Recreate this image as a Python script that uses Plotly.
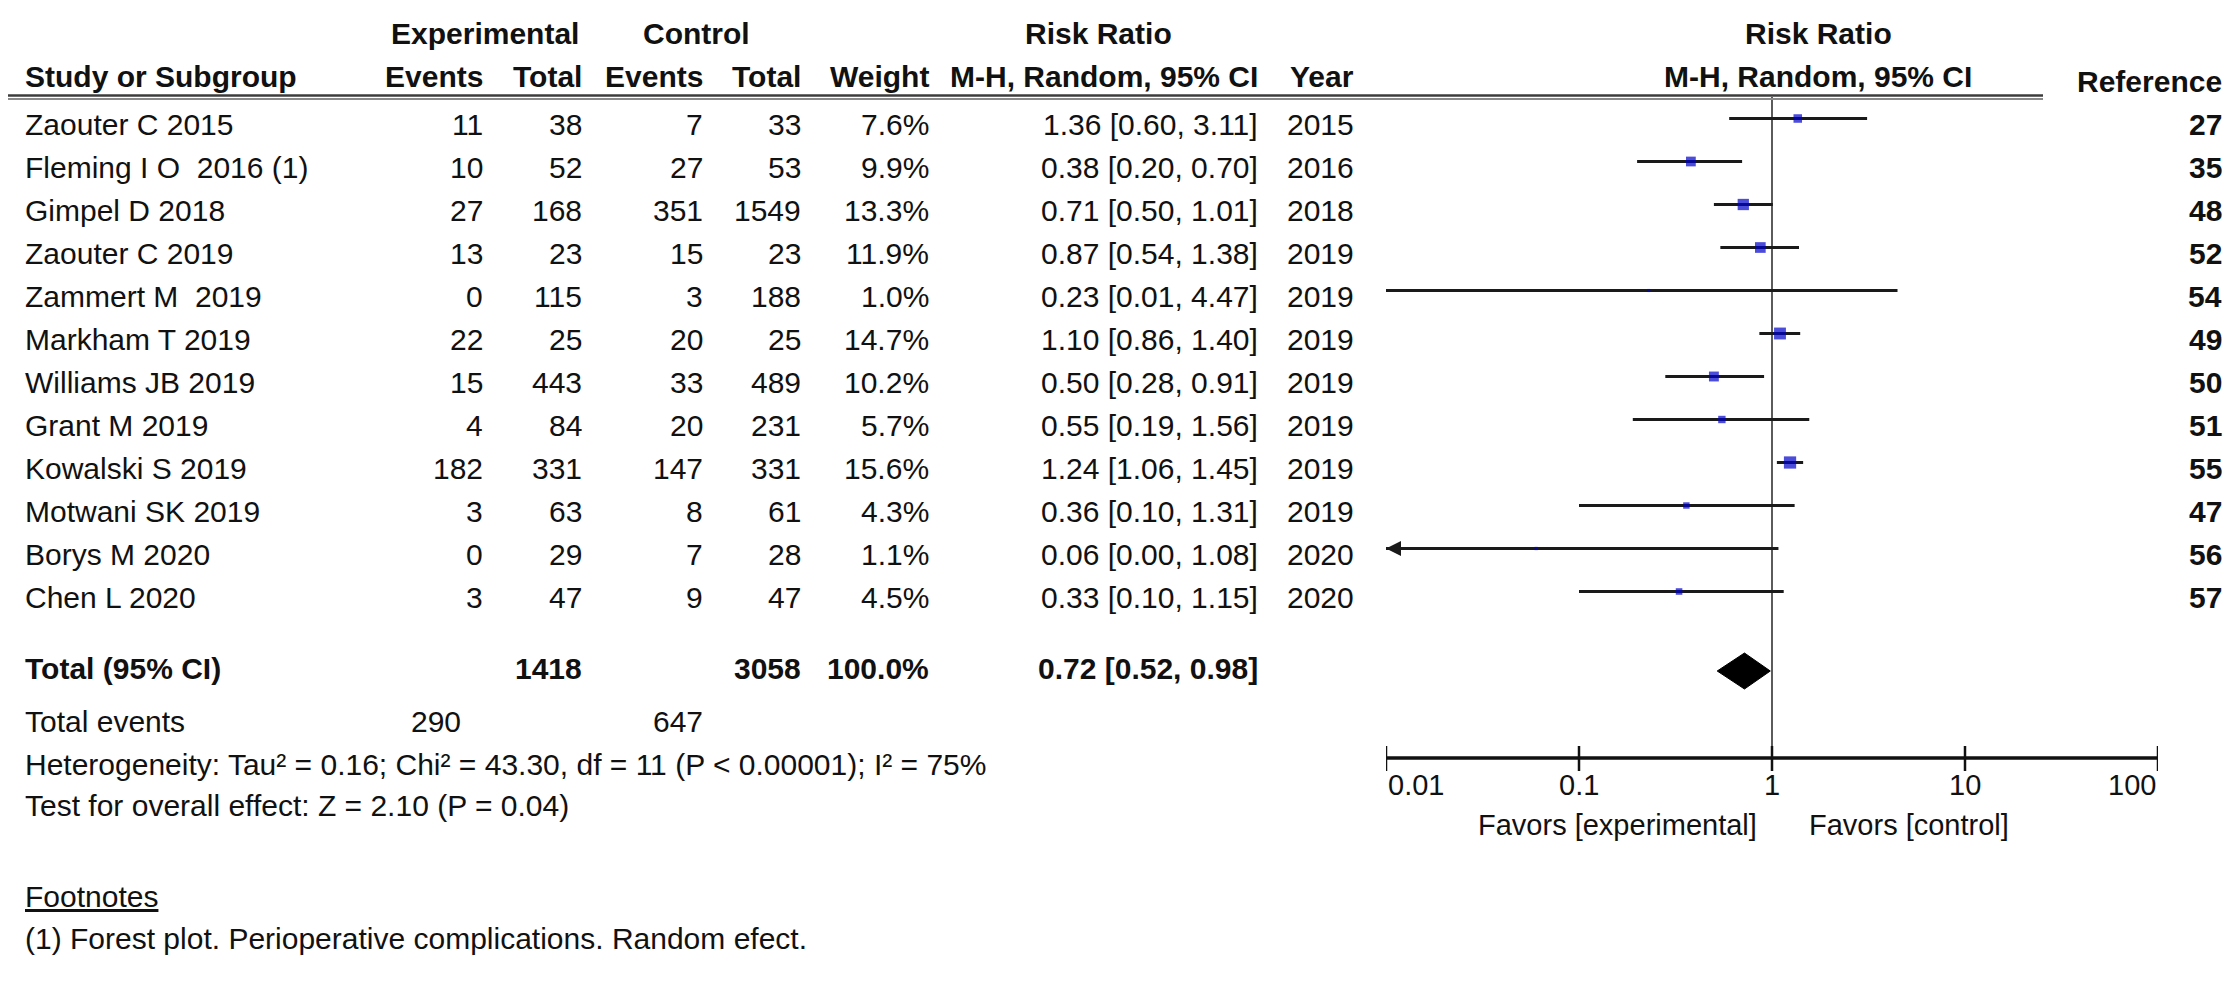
import math
import plotly.graph_objects as go

W, H = 2233, 990

# ---------------- data ----------------
studies = ["Zaouter C 2015", "Fleming I O  2016 (1)", "Gimpel D 2018", "Zaouter C 2019",
           "Zammert M  2019", "Markham T 2019", "Williams JB 2019", "Grant M 2019",
           "Kowalski S 2019", "Motwani SK 2019", "Borys M 2020", "Chen L 2020"]
exp_events = [11, 10, 27, 13, 0, 22, 15, 4, 182, 3, 0, 3]
exp_total = [38, 52, 168, 23, 115, 25, 443, 84, 331, 63, 29, 47]
ctrl_events = [7, 27, 351, 15, 3, 20, 33, 20, 147, 8, 7, 9]
ctrl_total = [33, 53, 1549, 23, 188, 25, 489, 231, 331, 61, 28, 47]
weights = [7.6, 9.9, 13.3, 11.9, 1.0, 14.7, 10.2, 5.7, 15.6, 4.3, 1.1, 4.5]
rr = [1.36, 0.38, 0.71, 0.87, 0.23, 1.10, 0.50, 0.55, 1.24, 0.36, 0.06, 0.33]
ci_lo = [0.60, 0.20, 0.50, 0.54, 0.01, 0.86, 0.28, 0.19, 1.06, 0.10, 0.00, 0.10]
ci_hi = [3.11, 0.70, 1.01, 1.38, 4.47, 1.40, 0.91, 1.56, 1.45, 1.31, 1.08, 1.15]
years = [2015, 2016, 2018, 2019, 2019, 2019, 2019, 2019, 2019, 2019, 2020, 2020]
refs = [27, 35, 48, 52, 54, 49, 50, 51, 55, 47, 56, 57]

total_exp = 1418
total_ctrl = 3058
total_weight = "100.0%"
total_rr, total_lo, total_hi = 0.72, 0.52, 0.98
total_events_exp = 290
total_events_ctrl = 647
heterogeneity = "Heterogeneity: Tau² = 0.16; Chi² = 43.30, df = 11 (P < 0.00001); I² = 75%"
overall = "Test for overall effect: Z = 2.10 (P = 0.04)"
footnote = "(1) Forest plot. Perioperative complications. Random efect."

tick_values = [0.01, 0.1, 1, 10, 100]
tick_labels = ["0.01", "0.1", "1", "10", "100"]
favors_left = "Favors [experimental]"
favors_right = "Favors [control]"

# ---------------- layout helpers ----------------
ROW0 = 110.5     # pixel centre of first study's marks
PITCH = 43.0     # pixels per study row
TEXT_DY = 5.5    # text sits slightly below the mark line


def r(px):
    return (px - ROW0) / PITCH


FONT = "Liberation Sans, Arial, Helvetica, sans-serif"
FS = 30
TXT = "#111111"

fig = go.Figure()
annotations = []


def txt(xpx, ypx, text, anchor="right", bold=False, size=FS):
    annotations.append(dict(
        x=xpx / W, xref="paper", y=r(ypx), yref="y",
        text=("<b>%s</b>" % text) if bold else text,
        showarrow=False, xanchor=anchor, yanchor="middle",
        font=dict(family=FONT, size=size, color=TXT)))


n = len(studies)
rows = list(range(n))


def row_px(i):
    return ROW0 + PITCH * i + TEXT_DY


# column positions (px)
X_NAME = 15
X_EE, X_ET, X_CE, X_CT, X_W, X_CI, X_Y, X_REF = 477, 576, 697, 795, 923, 1252, 1348, 2216
X_PLOTC = 1810

# headers
txt(477, 25, "Experimental", "center", True)
txt(688, 25, "Control", "center", True)
txt(1090, 25, "Risk Ratio", "center", True)
txt(X_PLOTC, 25, "Risk Ratio", "center", True)
txt(X_NAME, 68, "Study or Subgroup", "left", True)
txt(X_EE, 68, "Events", "right", True)
txt(X_ET, 68, "Total", "right", True)
txt(X_CE, 68, "Events", "right", True)
txt(X_CT, 68, "Total", "right", True)
txt(X_W, 68, "Weight", "right", True)
txt(X_CI, 68, "M-H, Random, 95% CI", "right", True)
txt(X_Y, 68, "Year", "right", True)
txt(X_PLOTC, 68, "M-H, Random, 95% CI", "center", True)
txt(X_REF, 73, "Reference", "right", True)

for i in rows:
    y = row_px(i)
    txt(X_NAME, y, studies[i], "left")
    txt(X_EE, y, str(exp_events[i]))
    txt(X_ET, y, str(exp_total[i]))
    txt(X_CE, y, str(ctrl_events[i]))
    txt(X_CT, y, str(ctrl_total[i]))
    txt(X_W, y, "%.1f%%" % weights[i])
    txt(X_CI, y, "%.2f [%.2f, %.2f]" % (rr[i], ci_lo[i], ci_hi[i]))
    txt(X_Y, y, str(years[i]))
    txt(X_REF, y, str(refs[i]), "right", True)

Y_TOT_TXT = 660
txt(X_NAME, Y_TOT_TXT, "Total (95% CI)", "left", True)
txt(X_ET, Y_TOT_TXT, str(total_exp), "right", True)
txt(X_CT, Y_TOT_TXT, str(total_ctrl), "right", True)
txt(X_W, Y_TOT_TXT, total_weight, "right", True)
txt(X_CI, Y_TOT_TXT, "%.2f [%.2f, %.2f]" % (total_rr, total_lo, total_hi), "right", True)

txt(X_NAME, 713, "Total events", "left")
txt(455, 713, str(total_events_exp), "right")
txt(X_CE, 713, str(total_events_ctrl), "right")
txt(X_NAME, 756, heterogeneity, "left")
txt(X_NAME, 797, overall, "left")
txt(X_NAME, 888, "<u>Footnotes</u>", "left")
txt(X_NAME, 930, footnote, "left")

# ---------------- forest plot marks ----------------
Y_AXIS = r(750)
Y_TOT = r(663)
xmin = tick_values[0]

# line of no effect
fig.add_trace(go.Scatter(x=[1, 1], y=[r(89), Y_AXIS], mode="lines",
                         line=dict(color="#333333", width=1.6), hoverinfo="skip"))

# confidence intervals
xs, ys = [], []
for i in rows:
    xs += [max(ci_lo[i], xmin), ci_hi[i], None]
    ys += [i, i, None]
fig.add_trace(go.Scatter(x=xs, y=ys, mode="lines",
                         line=dict(color="#1a1a1a", width=3), hoverinfo="skip"))

# arrows for intervals running past the axis
for i in rows:
    if ci_lo[i] < xmin:
        annotations.append(dict(x=math.log10(xmin), y=i, xref="x", yref="y",
                                ax=28, ay=0, text="", showarrow=True,
                                arrowhead=2, arrowsize=1.0, arrowwidth=3,
                                arrowcolor="#1a1a1a"))

# study squares (area proportional to weight)
fig.add_trace(go.Scatter(x=rr, y=rows, mode="markers",
                         marker=dict(symbol="square", color="#0000cc",
                                     size=[3.1 * math.sqrt(w) for w in weights],
                                     line=dict(width=0)),
                         hoverinfo="skip"))

# pooled diamond
hh = 18.0 / PITCH
fig.add_trace(go.Scatter(x=[total_lo, total_rr, total_hi, total_rr, total_lo],
                         y=[Y_TOT, Y_TOT - hh, Y_TOT, Y_TOT + hh, Y_TOT],
                         mode="lines", fill="toself", fillcolor="#000000",
                         line=dict(color="#000000", width=1), hoverinfo="skip"))

# horizontal axis with ticks
fig.add_trace(go.Scatter(x=[tick_values[0], tick_values[-1]], y=[Y_AXIS, Y_AXIS],
                         mode="lines", line=dict(color="#111111", width=3.5),
                         hoverinfo="skip"))
tx, ty = [], []
for t in tick_values:
    tx += [t, t, None]
    ty += [r(738), r(763), None]
fig.add_trace(go.Scatter(x=tx, y=ty, mode="lines",
                         line=dict(color="#111111", width=2.5), hoverinfo="skip"))

for k, (t, lab) in enumerate(zip(tick_values, tick_labels)):
    anchor = "left" if k == 0 else ("right" if k == len(tick_values) - 1 else "center")
    annotations.append(dict(x=math.log10(t), y=r(777), xref="x", yref="y",
                            text=lab, showarrow=False, xanchor=anchor, yanchor="middle",
                            font=dict(family=FONT, size=FS - 1, color=TXT)))

annotations.append(dict(x=0, y=r(817), xref="x", yref="y", text=favors_left,
                        showarrow=False, xanchor="right", yanchor="middle", xshift=-13,
                        font=dict(family=FONT, size=FS - 1, color=TXT)))
annotations.append(dict(x=0, y=r(817), xref="x", yref="y", text=favors_right,
                        showarrow=False, xanchor="left", yanchor="middle", xshift=35,
                        font=dict(family=FONT, size=FS - 1, color=TXT)))

shapes = [
    dict(type="line", xref="paper", yref="paper", x0=0, x1=2035 / W,
         y0=1 - 87.5 / H, y1=1 - 87.5 / H, line=dict(color="#3c3c3c", width=2.5)),
    dict(type="line", xref="paper", yref="paper", x0=0, x1=2035 / W,
         y0=1 - 91 / H, y1=1 - 91 / H, line=dict(color="#8a8a8a", width=2)),
]

fig.update_layout(
    width=W, height=H, margin=dict(l=0, r=0, t=0, b=0),
    paper_bgcolor="white", plot_bgcolor="white", showlegend=False,
    xaxis=dict(type="log", range=[math.log10(tick_values[0]), math.log10(tick_values[-1])],
               domain=[1378 / W, 2150 / W], visible=False),
    yaxis=dict(range=[r(H), r(0)], domain=[0, 1], visible=False),
    annotations=annotations, shapes=shapes,
)

fig.write_html("out.html")
